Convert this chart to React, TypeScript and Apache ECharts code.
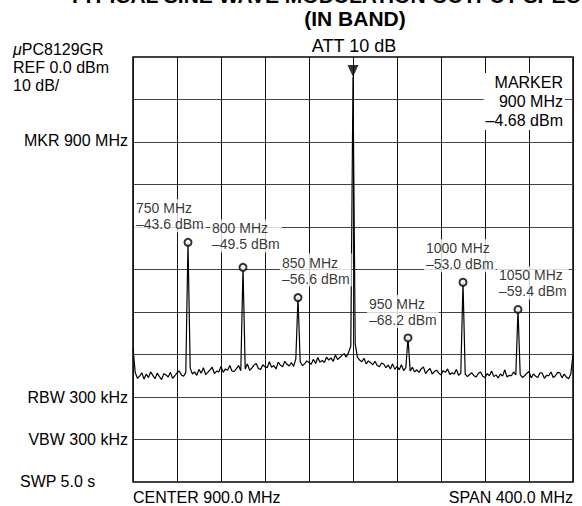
import React, { useEffect, useRef } from "react";
import * as echarts from "echarts";

// Sweep: CENTER 900.0 MHz, SPAN 400.0 MHz; REF 0.0 dBm, 10 dB/div
const freqMin = 700;
const freqMax = 1100;
const freqDiv = 40;
const levelMin = -100;
const levelMax = 0;
const levelDiv = 10;

const noiseStart = 700;
const noiseStep = 2;
const noiseLevels = [
  -68.5, -74.2, -75.6, -75.1, -74.3, -75.8, -74.6, -75.4, -74.1, -74.9,
  -75.7, -74.4, -75.2, -75.9, -74.5, -74.8, -75.3, -74.2, -75.6, -75.0,
  -74.3, -73.9, -74.8, -75.1, -74.2, -74.0, -73.2, -74.6, -74.1, -74.9,
  -73.5, -74.4, -73.1, -74.7, -74.2, -73.6, -73.0, -74.5, -73.9, -74.1,
  -72.8, -74.2, -73.4, -73.7, -72.6, -73.9, -74.0, -73.3, -72.6, -73.8,
  -73.0, -73.4, -72.2, -73.7, -73.2, -72.5, -72.1, -73.3, -73.5, -72.4,
  -72.9, -73.1, -71.7, -73.0, -72.6, -73.4, -71.8, -72.5, -72.9, -71.6,
  -72.3, -72.7, -71.9, -72.8, -71.1, -72.0, -71.7, -72.6, -72.2, -71.5,
  -71.9, -72.3, -71.1, -72.1, -70.7, -71.8, -71.4, -71.9, -70.6, -71.3,
  -70.8, -71.6, -70.1, -71.2, -70.7, -70.2, -69.8, -70.6, -69.5, -68.0,
  -68.0, -67.5, -70.6, -71.3, -71.7, -70.9, -72.2, -71.5, -71.9, -72.4,
  -71.6, -72.6, -72.9, -72.0, -72.3, -73.1, -72.5, -73.4, -72.2, -73.5,
  -72.8, -73.6, -72.4, -73.8, -73.1, -73.3, -73.9, -73.0, -74.1, -73.6,
  -74.2, -73.4, -72.9, -74.5, -73.8, -73.3, -74.6, -74.0, -73.7, -74.4,
  -74.8, -73.8, -74.2, -73.4, -74.7, -74.3, -74.6, -73.5, -74.9, -74.4,
  -74.3, -74.6, -75.2, -74.7, -74.3, -75.0, -75.3, -74.4, -74.1, -75.1,
  -75.4, -74.5, -75.0, -73.9, -75.2, -74.8, -75.5, -74.6, -75.1, -73.6,
  -75.3, -74.9, -75.0, -74.1, -74.8, -74.5, -74.7, -75.4, -75.0, -74.4,
  -74.0, -75.5, -74.6, -75.1, -75.4, -74.3, -74.4, -75.6, -74.9, -75.0,
  -74.1, -75.4, -75.0, -74.2, -74.3, -75.5, -74.6, -75.3, -75.7, -74.6,
  -70.0,
];

// Spectral lines: frequency (MHz), drawn level (dBm) and marker reading text
const peakFreqs = [750, 800, 850, 900, 950, 1000, 1050];
const peakLevels = [-43.6, -49.5, -56.6, -4.68, -66.1, -53.0, -59.4];
const peakReadings = ["–43.6", "–49.5", "–56.6", "–4.68", "–68.2", "–53.0", "–59.4"];
const markerFreq = 900;

// Layout of the reading boxes (pixel offsets of the box's top-left from the circle)
const labelOffsets: ([number, number] | null)[] = [
  [-53, -42], [-32, -47], [-17, -43], null, [-40, -42], [-38, -42], [-20, -42],
];

const FONT = '"Liberation Sans", Arial, Helvetica, sans-serif';

export default function App() {
  const ref = useRef<HTMLDivElement>(null);

  useEffect(() => {
    if (!ref.current) return;
    const chart = echarts.init(ref.current, null, { renderer: "svg" });

    const trace: [number, number][] = [];
    noiseLevels.forEach((v, i) => {
      const f = noiseStart + i * noiseStep;
      if (!peakFreqs.includes(f)) trace.push([f, v]);
    });
    peakFreqs.forEach((f, i) => trace.push([f, peakLevels[i]]));
    trace.sort((a, b) => a[0] - b[0]);

    const circleData: any[] = [];
    peakFreqs.forEach((f, i) => {
      if (f === markerFreq) return;
      const off = labelOffsets[i] || [0, 0];
      circleData.push({
        value: [f, peakLevels[i]],
        label: {
          show: true,
          position: [off[0] + 3.5, off[1] + 3.5],
          align: "left",
          verticalAlign: "top",
          formatter: `${f} MHz\n${peakReadings[i]} dBm`,
        },
      });
    });

    const mi = peakFreqs.indexOf(markerFreq);

    const txt = (text: string, x: number, y: number, opts: any = {}) => ({
      type: "text",
      x,
      y,
      z: 100,
      style: {
        text,
        fill: "#000",
        fontSize: 16,
        fontFamily: FONT,
        align: "left",
        verticalAlign: "middle",
        ...opts,
      },
    });

    chart.setOption({
      animation: false,
      backgroundColor: "#fff",
      grid: {
        left: 133,
        top: 57,
        width: 440,
        height: 425,
        show: true,
        borderColor: "#000",
        borderWidth: 1.5,
        backgroundColor: "transparent",
      },
      xAxis: {
        type: "value",
        min: freqMin,
        max: freqMax,
        interval: freqDiv,
        axisLine: { show: false },
        axisTick: { show: false },
        axisLabel: { show: false },
        splitLine: { show: true, lineStyle: { color: "#111", width: 1 } },
      },
      yAxis: {
        type: "value",
        min: levelMin,
        max: levelMax,
        interval: levelDiv,
        axisLine: { show: false },
        axisTick: { show: false },
        axisLabel: { show: false },
        splitLine: { show: true, lineStyle: { color: "#444", width: 1 } },
      },
      series: [
        {
          type: "line",
          data: trace,
          showSymbol: false,
          symbol: "none",
          lineStyle: { color: "#000", width: 1.2 },
          z: 3,
          silent: true,
        },
        {
          type: "scatter",
          data: circleData,
          symbol: "emptyCircle",
          symbolSize: 7,
          itemStyle: { color: "#000", borderColor: "#000", borderWidth: 1 },
          label: {
            color: "#000",
            fontSize: 14,
            fontFamily: FONT,
            lineHeight: 16,
            backgroundColor: "#fff",
            padding: [1, 2, 0, 2],
          },
          z: 5,
          silent: true,
        },
        {
          type: "scatter",
          data: [[markerFreq, peakLevels[mi]]],
          symbol: "triangle",
          symbolRotate: 180,
          symbolSize: [11, 12],
          symbolOffset: [0, -6],
          itemStyle: { color: "#000" },
          z: 6,
          silent: true,
        },
      ],
      graphic: [
        txt("TYPICAL SINE WAVE MODULATION OUTPUT SPECTRUM", 355, -4.5, {
          fontSize: 21,
          fontWeight: "bold",
          align: "center",
        }),
        txt("(IN BAND)", 355, 18, { fontSize: 21, fontWeight: "bold", align: "center" }),
        txt("ATT 10 dB", 354, 46, { fontSize: 18, align: "center" }),
        txt("{it|μ}PC8129GR", 13, 49, {
          rich: { it: { fontStyle: "italic", fontSize: 16, fontFamily: FONT } },
        }),
        txt("REF 0.0 dBm", 13, 67),
        txt("10 dB/", 13, 85),
        txt(`MKR ${markerFreq} MHz`, 128, 140, { align: "right" }),
        txt("RBW 300 kHz", 128, 397, { align: "right" }),
        txt("VBW 300 kHz", 128, 439, { align: "right" }),
        txt("SWP 5.0 s", 20, 481),
        txt("CENTER 900.0 MHz", 133, 497),
        txt("SPAN 400.0 MHz", 573, 497, { align: "right" }),
        txt(`MARKER\n${markerFreq} MHz\n${peakReadings[mi]} dBm`, 565, 73, {
          align: "right",
          verticalAlign: "top",
          lineHeight: 19,
          backgroundColor: "#fff",
          padding: [0, 2, 0, 2],
        }),
      ],
    });

    return () => chart.dispose();
  }, []);

  return (
    <div
      ref={ref}
      style={{ position: "absolute", left: 0, top: 0, width: 582, height: 506 }}
    />
  );
}
